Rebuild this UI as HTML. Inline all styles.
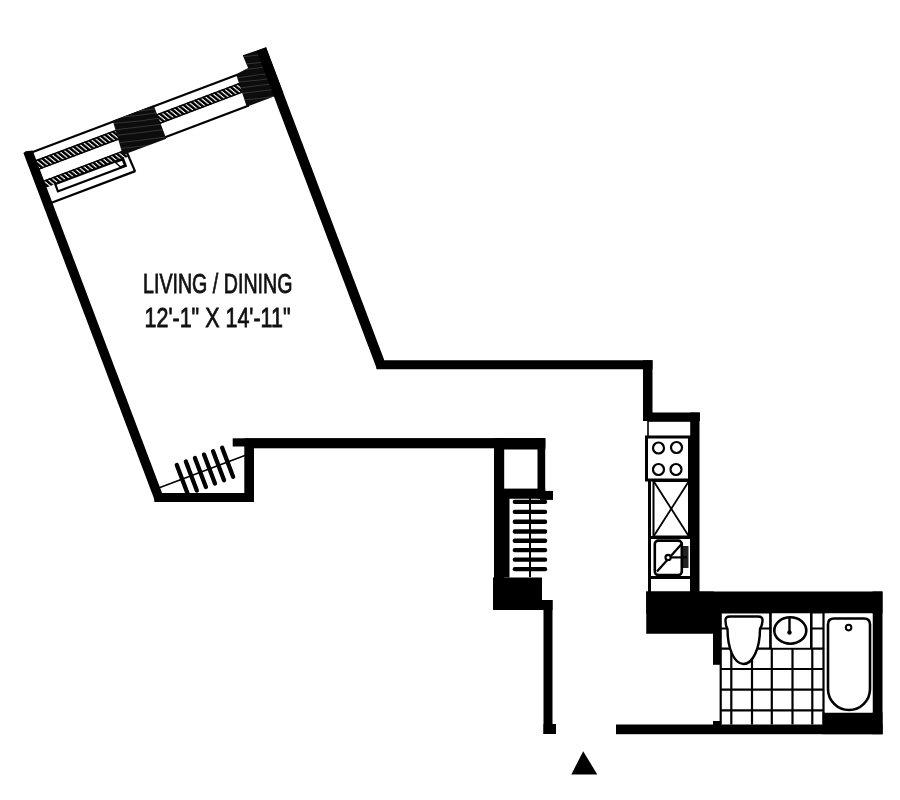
<!DOCTYPE html>
<html><head><meta charset="utf-8"><style>html,body{margin:0;padding:0;background:#fff;}svg{display:block;will-change:transform;}</style></head>
<body><svg width="900" height="800" viewBox="0 0 900 800">
<defs><clipPath id="c1"><polygon points="112.79,120.69 153.67,105.24 166.32,138.73 122.75,154.98"/></clipPath><clipPath id="c2"><polygon points="242.7,55.13 266.07,47.37 283.32,93.02 246.74,106.84 236.06,74.32 248.12,68.05"/></clipPath><pattern id="hatch" patternUnits="userSpaceOnUse" width="4.2" height="10" patternTransform="skewX(30)"><rect width="4.2" height="10" fill="#fff"/><rect width="2.9" height="10" fill="#000"/></pattern></defs>
<rect width="900" height="800" fill="#fff"/>
<g transform="translate(23.5,154) rotate(-20.7)"><line x1="8" y1="1.4" x2="228" y2="1.4" stroke="#000" stroke-width="2.2" /><rect x="9" y="10" width="86" height="10.2" fill="url(#hatch)"/><rect x="137" y="9.8" width="91" height="10.2" fill="url(#hatch)"/><line x1="9" y1="10.6" x2="95" y2="10.6" stroke="#000" stroke-width="1.4" /><line x1="9" y1="19.6" x2="95" y2="19.6" stroke="#000" stroke-width="1.4" /><line x1="137" y1="10.4" x2="228" y2="10.4" stroke="#000" stroke-width="1.4" /><line x1="137" y1="19.4" x2="228" y2="19.4" stroke="#000" stroke-width="1.4" /><line x1="137" y1="34.3" x2="228" y2="34.3" stroke="#000" stroke-width="2.2" /><rect x="8" y="32" width="89" height="7.5" fill="url(#hatch)"/><line x1="8" y1="32.6" x2="97" y2="32.6" stroke="#000" stroke-width="1.4" /><line x1="97.2" y1="33" x2="98.2" y2="56" stroke="#000" stroke-width="2.2" /><line x1="9" y1="55.5" x2="98.5" y2="55.5" stroke="#000" stroke-width="2.2" /><rect x="19" y="39.5" width="72.5" height="7.7" fill="#fff" stroke="#000" stroke-width="2.2"/><polygon points="83,40.5 90.5,40.5 90.5,46.2 86,46.2" fill="#fff" stroke="#000" stroke-width="1.4"/><polygon points="95.3,0.4 139,0.4 139,36.2 92.5,36" fill="#0c0c0c"/><polygon points="240,-15 264.6,-14 264.6,34.8 225.5,34.8 227,0.6 240.5,-1" fill="#0c0c0c"/><line x1="9" y1="360.3" x2="104" y2="360.3" stroke="#000" stroke-width="1.6" /><line x1="33.5" y1="345" x2="33.5" y2="376" stroke="#000" stroke-width="4.3" stroke-linecap="round"/><line x1="43.2" y1="345" x2="43.2" y2="376" stroke="#000" stroke-width="4.3" stroke-linecap="round"/><line x1="52.9" y1="345" x2="52.9" y2="376" stroke="#000" stroke-width="4.3" stroke-linecap="round"/><line x1="62.6" y1="345" x2="62.6" y2="376" stroke="#000" stroke-width="4.3" stroke-linecap="round"/><line x1="72.3" y1="345" x2="72.3" y2="376" stroke="#000" stroke-width="4.3" stroke-linecap="round"/><line x1="82" y1="345" x2="82" y2="376" stroke="#000" stroke-width="4.3" stroke-linecap="round"/></g><path d="M112.79,107.93 Q139.56,104.85 166.32,101.5 M112.79,113.98 Q139.56,111.14 166.32,107.55 M112.79,117.96 Q139.56,115.76 166.32,111.54 M112.79,123.51 Q139.56,121.78 166.32,117.08 M112.79,130.14 Q139.56,126.86 166.32,123.72 M112.79,135.73 Q139.56,132.93 166.32,129.31 M112.79,143.29 Q139.56,140.8 166.32,136.86 M112.79,149.25 Q139.56,146.81 166.32,142.82" clip-path="url(#c1)" fill="none" stroke="#666" stroke-width="1" opacity="0.45"/><path d="M236.06,50.14 Q259.69,45.89 283.32,44.46 M236.06,57.44 Q259.69,55.26 283.32,51.77 M236.06,64.86 Q259.69,63.29 283.32,59.19 M236.06,70.65 Q259.69,67.65 283.32,64.98 M236.06,78.05 Q259.69,74.01 283.32,72.38 M236.06,82.17 Q259.69,80.73 283.32,76.5 M236.06,88.47 Q259.69,85.03 283.32,82.8 M236.06,94.2 Q259.69,90.92 283.32,88.53 M236.06,100.69 Q259.69,99.07 283.32,95.02" clip-path="url(#c2)" fill="none" stroke="#666" stroke-width="1" opacity="0.45"/><polygon points="23.43,152.96 25.67,151.26 32.67,150.54 162.07,493 155.32,502" fill="#000"/><polygon points="256.72,50.91 266.07,47.37 384.3,360.25 377.01,369.25" fill="#000"/><rect x="376.51" y="360.25" width="275.99" height="9" fill="#000"/><rect x="643" y="360.25" width="9.5" height="60.75" fill="#000"/><rect x="643" y="412.5" width="57" height="8.5" fill="#000"/><rect x="690" y="412.5" width="9.5" height="179.5" fill="#000"/><rect x="648" y="421" width="43" height="16" fill="#fff" stroke="#000" stroke-width="1.6"/><rect x="646.5" y="437" width="43" height="43" fill="#fff" stroke="#000" stroke-width="3"/><circle cx="658.5" cy="448" r="5.5" fill="none" stroke="#000" stroke-width="2.2"/><circle cx="676.5" cy="447.5" r="5.5" fill="none" stroke="#000" stroke-width="2.2"/><circle cx="658.5" cy="469.5" r="5.5" fill="none" stroke="#000" stroke-width="2.2"/><circle cx="676" cy="469.5" r="5.5" fill="none" stroke="#000" stroke-width="2.2"/><rect x="653.5" y="481" width="35.5" height="55.5" fill="#fff" stroke="#000" stroke-width="2"/><line x1="653.5" y1="481" x2="689" y2="536.5" stroke="#000" stroke-width="1.8" /><line x1="689" y1="481" x2="653.5" y2="536.5" stroke="#000" stroke-width="1.8" /><rect x="648" y="480" width="3" height="112" fill="#000"/><rect x="648" y="536" width="42" height="3" fill="#000"/><rect x="683" y="546" width="5.5" height="22" fill="#222"/><rect x="654.8" y="540.6" width="27" height="34.4" rx="3.5" fill="#fff" stroke="#000" stroke-width="2.6"/><line x1="657" y1="571.5" x2="681.8" y2="543.8" stroke="#000" stroke-width="2.2" /><line x1="668" y1="557.4" x2="687" y2="557.4" stroke="#000" stroke-width="2.2" /><circle cx="668.1" cy="557.4" r="2.6" fill="#fff" stroke="#000" stroke-width="2.2"/><rect x="648" y="576" width="42" height="3" fill="#000"/><rect x="646.25" y="591.5" width="236.25" height="22" fill="#000"/><rect x="646.25" y="591.5" width="67.5" height="42.25" fill="#000"/><rect x="713" y="613" width="8" height="51.8" fill="#000"/><rect x="872.5" y="591.5" width="10" height="142.7" fill="#000"/><rect x="616" y="724.5" width="266.5" height="9.7" fill="#000"/><rect x="822.5" y="712.5" width="60" height="21.7" fill="#000"/><rect x="713" y="721" width="8" height="4" fill="#000"/><line x1="720.7" y1="648.7" x2="720.7" y2="724.5" stroke="#000" stroke-width="2.2" /><line x1="731.3" y1="648.7" x2="731.3" y2="724.5" stroke="#000" stroke-width="2.2" /><line x1="752" y1="648.7" x2="752" y2="724.5" stroke="#000" stroke-width="2.2" /><line x1="771.8" y1="648.7" x2="771.8" y2="724.5" stroke="#000" stroke-width="2.2" /><line x1="792.5" y1="648.7" x2="792.5" y2="724.5" stroke="#000" stroke-width="2.2" /><line x1="812.3" y1="648.7" x2="812.3" y2="724.5" stroke="#000" stroke-width="2.2" /><line x1="823.5" y1="648.7" x2="823.5" y2="724.5" stroke="#000" stroke-width="2.2" /><line x1="720.7" y1="613" x2="720.7" y2="649" stroke="#000" stroke-width="2.2" /><line x1="770.5" y1="613" x2="770.5" y2="649" stroke="#000" stroke-width="2.2" /><line x1="811.2" y1="613" x2="811.2" y2="649" stroke="#000" stroke-width="2.2" /><line x1="823.5" y1="613" x2="823.5" y2="649" stroke="#000" stroke-width="2.2" /><line x1="720" y1="648.7" x2="823" y2="648.7" stroke="#000" stroke-width="2.2" /><line x1="720" y1="669" x2="823" y2="669" stroke="#000" stroke-width="2.2" /><line x1="720" y1="689.6" x2="823" y2="689.6" stroke="#000" stroke-width="2.2" /><line x1="720" y1="710.3" x2="823" y2="710.3" stroke="#000" stroke-width="2.2" /><line x1="720" y1="628.5" x2="823" y2="628.5" stroke="#000" stroke-width="2.2" /><rect x="771.5" y="613.5" width="38.7" height="34.1" fill="#fff"/><line x1="770.5" y1="613" x2="770.5" y2="649" stroke="#000" stroke-width="2.4" /><line x1="811.2" y1="613" x2="811.2" y2="649" stroke="#000" stroke-width="2.4" /><path d="M725.5,621 Q725,616.5 730,616.5 L758,616.5 Q763,616.5 762.5,621 Q762,626 760,629 C760,648 753,664 743.5,664 C734,664 727.5,648 727.5,629 Q725.5,626 725.5,621 Z" fill="#fff" stroke="#000" stroke-width="2.4"/><ellipse cx="790.3" cy="630.5" rx="16" ry="13.2" fill="#fff" stroke="#000" stroke-width="2.6"/><line x1="789.5" y1="617.5" x2="789.5" y2="632" stroke="#000" stroke-width="2.4" /><circle cx="789.5" cy="632.5" r="2.2" fill="#000"/><rect x="825" y="613.5" width="47.5" height="99" fill="#fff"/><path d="M834,618.5 L864,618.5 Q870,618.5 870,624.5 L870,689 A21,21 0 0 1 828,689 L828,624.5 Q828,618.5 834,618.5 Z" fill="#fff" stroke="#000" stroke-width="2.6"/><circle cx="848.6" cy="627.6" r="2.8" fill="#fff" stroke="#000" stroke-width="2"/><rect x="232.7" y="438.3" width="312.5" height="8.2" fill="#000"/><rect x="254" y="438.3" width="291.2" height="10" fill="#000"/><rect x="244.3" y="438.3" width="9.7" height="63.7" fill="#000"/><rect x="154.32" y="493" width="99.68" height="9" fill="#000"/><rect x="494" y="438.3" width="10.2" height="171.7" fill="#000"/><rect x="537.5" y="438.3" width="7.7" height="60.45" fill="#000"/><rect x="494" y="438.3" width="51.2" height="11.2" fill="#000"/><rect x="494" y="488.6" width="51.2" height="10.15" fill="#000"/><rect x="540" y="490.9" width="13" height="9" fill="#000"/><rect x="504" y="497" width="5.5" height="80.5" fill="#000"/><rect x="512.7" y="499.7" width="34.5" height="4.4" rx="2" fill="#000"/><rect x="512.7" y="509.7" width="34.5" height="4.4" rx="2" fill="#000"/><rect x="512.7" y="519.6" width="34.5" height="4.4" rx="2" fill="#000"/><rect x="512.7" y="529.3" width="34.5" height="4.4" rx="2" fill="#000"/><rect x="512.7" y="538.6" width="34.5" height="4.4" rx="2" fill="#000"/><rect x="512.7" y="547.9" width="34.5" height="4.4" rx="2" fill="#000"/><rect x="512.7" y="557.4" width="34.5" height="4.4" rx="2" fill="#000"/><rect x="512.7" y="566.9" width="34.5" height="4.4" rx="2" fill="#000"/><line x1="530" y1="497.5" x2="530" y2="577" stroke="#000" stroke-width="2" /><rect x="493" y="577.5" width="49" height="32.5" fill="#000"/><rect x="542" y="600" width="10.5" height="10" fill="#000"/><rect x="543.5" y="600" width="9" height="134" fill="#000"/><rect x="543.5" y="724" width="12.5" height="10" fill="#000"/><polygon points="583.2,751.2 571.3,774.6 597.3,774.6" fill="#000"/><text x="143" y="292.9" font-family="Liberation Sans, sans-serif" font-size="27.8" textLength="149.5" lengthAdjust="spacingAndGlyphs" fill="#111" stroke="#111" stroke-width="0.8">LIVING / DINING</text><text x="144.5" y="327.3" font-family="Liberation Sans, sans-serif" font-size="27.8" textLength="146" lengthAdjust="spacingAndGlyphs" fill="#111" stroke="#111" stroke-width="0.8">12'-1" X 14'-11"</text>
</svg></body></html>
